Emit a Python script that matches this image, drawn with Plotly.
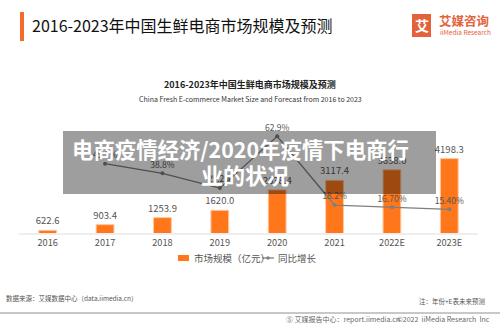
import plotly.graph_objects as go

years = ["2016", "2017", "2018", "2019", "2020", "2021", "2022E", "2023E"]
market_size = [622.6, 903.4, 1253.9, 1620.0, 2638.4, 3117.4, 3638.0, 4198.3]
size_labels = ["622.6", "903.4", "1253.9", "1620.0", "2638.4", "3117.4", "3638.0", "4198.3"]
growth = [None, 45.1, 38.8, 29.2, 62.9, 18.2, 16.7, 15.4]
growth_labels = ["", "45.1%", "38.8%", "29.2%", "62.9%", "18.2%", "16.70%", "15.40%"]
series_names = ["市场规模（亿元）", "同比增长"]

W, H = 500, 325
ML, MR, MT, MB = 19, 22, 100, 92
PW, PH = W - ML - MR, H - MT - MB


def px(x):
    return (x - ML) / PW


def py(y):
    return (H - MB - y) / PH


FONT = "Noto Sans CJK SC"
ORANGE = "#FF771A"
LINE = "#7f7f7f"

fig = go.Figure()
fig.add_trace(go.Bar(
    x=years, y=market_size, name=series_names[0],
    marker=dict(color=ORANGE, line=dict(color="#FFC9A0", width=1)),
    width=0.31,
    text=size_labels, textposition="outside", cliponaxis=False, constraintext="none",
    textfont=dict(size=9.5, color="#555555", family=FONT),
))
fig.add_trace(go.Scatter(
    x=years, y=growth, name=series_names[1], yaxis="y2",
    mode="lines+markers+text",
    line=dict(color=LINE, width=1.3),
    marker=dict(color=LINE, size=4),
    text=growth_labels, textposition="top center", cliponaxis=False,
    textfont=dict(size=8.5, color="#555555", family=FONT),
))

shapes = [
    # title accent bar
    dict(type="rect", xref="paper", yref="paper", x0=px(20), x1=px(24), y0=py(41), y1=py(12),
         fillcolor="#F26A2E", line=dict(width=0)),
    # logo box
    dict(type="rect", xref="paper", yref="paper", x0=px(412), x1=px(431), y0=py(37), y1=py(14),
         fillcolor="#E4613A", line=dict(width=0)),
    # legend symbols
    dict(type="rect", xref="paper", yref="paper", x0=px(178), x1=px(189), y0=py(261), y1=py(255),
         fillcolor=ORANGE, line=dict(width=0)),
    dict(type="line", xref="paper", yref="paper", x0=px(262), x1=px(274), y0=py(258), y1=py(258),
         line=dict(color=LINE, width=1.3)),
    dict(type="circle", xref="paper", yref="paper", x0=px(266.3), x1=px(269.7), y0=py(259.7), y1=py(256.3),
         fillcolor=LINE, line=dict(width=0)),
    # footer rule
    dict(type="line", xref="paper", yref="paper", x0=px(0), x1=px(500), y0=py(313), y1=py(313),
         line=dict(color="#c8c8c8", width=2)),
    # grey overlay
    dict(type="rect", xref="paper", yref="paper", x0=px(63), x1=px(436), y0=py(194), y1=py(131),
         fillcolor="rgba(0,0,0,0.38)", line=dict(width=0), layer="above"),
]


def ann(text, x, y, size, color, xanchor="left", bold=False):
    return dict(text=("<b>%s</b>" % text) if bold else text, x=px(x), y=py(y),
                xref="paper", yref="paper", xanchor=xanchor, yanchor="middle",
                showarrow=False, font=dict(size=size, color=color, family=FONT))


annotations = [
    ann("2016-2023年中国生鲜电商市场规模及预测", 29.5, 25, 16, "#111111"),
    ann("艾", 421.5, 25, 14, "#ffffff", "center", True),
    ann("艾媒咨询", 437, 20, 12.5, "#E4613A", bold=True),
    ann("iiMedia Research", 438, 32.5, 6.5, "#E4613A"),
    ann("2016-2023年中国生鲜电商市场规模及预测", 250, 84, 9, "#222222", "center", True),
    ann("China Fresh E-commerce Market Size and Forecast from 2016 to 2023", 250, 98.5, 7, "#333333", "center"),
    ann(series_names[0], 192, 258, 9.5, "#555555"),
    ann(series_names[1], 276, 258, 9.5, "#555555"),
    ann("数据来源：艾媒数据中心（data.iimedia.cn）", 4, 298, 6.5, "#555555"),
    ann("注：年份+E表未来预测", 487, 301, 6.5, "#555555", "right"),
    ann("Ⓢ 艾媒报告中心：report.iimedia.cn", 284, 319, 7, "#666666"),
    ann("©2022  iiMedia Research  Inc", 492, 319, 7, "#666666", "right"),
    ann("电商疫情经济/2020年疫情下电商行", 240, 148, 21.4, "#ffffff", "center", True),
    ann("业的状况", 245, 174, 22, "#ffffff", "center", True),
]

fig.update_layout(
    width=W, height=H,
    margin=dict(l=ML, r=MR, t=MT, b=MB, pad=0),
    paper_bgcolor="white", plot_bgcolor="white",
    font=dict(family=FONT, color="#555555"),
    showlegend=False,
    xaxis=dict(showgrid=False, showline=True, linecolor="#eeeeee", linewidth=2,
               ticks="", tickfont=dict(size=9.2, color="#555555"), zeroline=False),
    yaxis=dict(range=[488, 488 + PH / 0.02005], visible=False, showgrid=False, zeroline=False),
    yaxis2=dict(range=[0, PH / 1.537], overlaying="y", side="right", visible=False,
                showgrid=False, zeroline=False),
    shapes=shapes, annotations=annotations,
)

fig.write_html("out.html")
